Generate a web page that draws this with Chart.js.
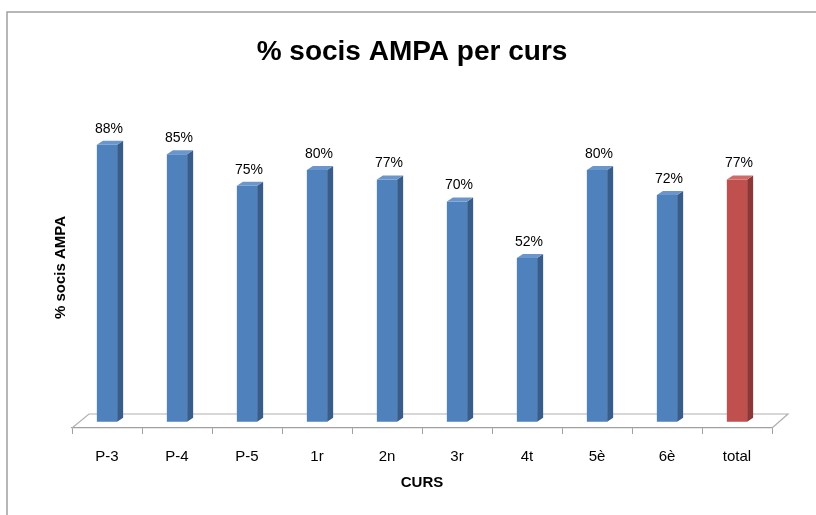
<!DOCTYPE html>
<html>
<head>
<meta charset="utf-8">
<script src="https://cdn.jsdelivr.net/npm/chart.js@4.4.0/dist/chart.umd.min.js"></script>
<style>
  html, body { margin: 0; padding: 0; background: #fff; }
  #wrap { width: 816px; height: 515px; }
</style>
</head>
<body>
<div id="wrap"><canvas id="sociChart" width="816" height="515"></canvas></div>
<script>
// Dades
const cursos = ['P-3', 'P-4', 'P-5', '1r', '2n', '3r', '4t', '5è', '6è', 'total'];
const percentatges = [88, 85, 75, 80, 77, 70, 52, 80, 72, 77];
const colorsFront = ['#4F81BD', '#4F81BD', '#4F81BD', '#4F81BD', '#4F81BD', '#4F81BD', '#4F81BD', '#4F81BD', '#4F81BD', '#C0504D'];
const colorsSide = ['#385D8A', '#385D8A', '#385D8A', '#385D8A', '#385D8A', '#385D8A', '#385D8A', '#385D8A', '#385D8A', '#8C3836'];
const colorsTop = ['#6A96CC', '#6A96CC', '#6A96CC', '#6A96CC', '#6A96CC', '#6A96CC', '#6A96CC', '#6A96CC', '#6A96CC', '#D06A67'];

const FONT = "'Liberation Sans', Arial, sans-serif";
const DEPTH_X = 6, DEPTH_Y = 4;

// marc del gràfic
const framePlugin = {
  id: 'frame',
  beforeDraw(chart) {
    const ctx = chart.ctx;
    ctx.save();
    ctx.fillStyle = '#fff';
    ctx.fillRect(0, 0, chart.width, chart.height);
    ctx.strokeStyle = '#A0A0A0';
    ctx.lineWidth = 1.5;
    ctx.beginPath();
    ctx.moveTo(7, chart.height);
    ctx.lineTo(7, 12);
    ctx.lineTo(chart.width, 12);
    ctx.stroke();
    ctx.restore();
  },
  // terra 3D
  beforeDatasetsDraw(chart) {
    const { ctx, chartArea } = chart;
    const b = chartArea.bottom;
    ctx.save();
    ctx.strokeStyle = '#B0B0B0';
    ctx.lineWidth = 1.2;
    ctx.beginPath();
    ctx.moveTo(chartArea.left, b);
    ctx.lineTo(chartArea.left + 17, b - 14);
    ctx.lineTo(chartArea.right + 16, b - 14);
    ctx.lineTo(chartArea.right, b);
    ctx.stroke();
    ctx.restore();
  }
};

// cares laterals i etiquetes
const bar3dPlugin = {
  id: 'bar3d',
  afterDatasetsDraw(chart) {
    const ctx = chart.ctx;
    const meta = chart.getDatasetMeta(0);
    ctx.save();
    meta.data.forEach((bar, i) => {
      const half = bar.width / 2;
      const l = bar.x - half, r = bar.x + half;
      const t = bar.y, bo = bar.base;
      ctx.fillStyle = colorsSide[i];
      ctx.beginPath();
      ctx.moveTo(r, t);
      ctx.lineTo(r + DEPTH_X, t - DEPTH_Y);
      ctx.lineTo(r + DEPTH_X, bo - DEPTH_Y);
      ctx.lineTo(r, bo);
      ctx.closePath();
      ctx.fill();
      ctx.fillStyle = colorsTop[i];
      ctx.beginPath();
      ctx.moveTo(l, t);
      ctx.lineTo(l + DEPTH_X, t - DEPTH_Y);
      ctx.lineTo(r + DEPTH_X, t - DEPTH_Y);
      ctx.lineTo(r, t);
      ctx.closePath();
      ctx.fill();

      ctx.fillStyle = '#000';
      ctx.font = '14px ' + FONT;
      ctx.textAlign = 'center';
      ctx.textBaseline = 'middle';
      ctx.fillText(percentatges[i] + '%', bar.x + 2, t - 16);
    });
    ctx.restore();
  }
};

const ctxBar = document.getElementById('sociChart').getContext('2d');
const sociChart = new Chart(ctxBar, {
  type: 'bar',
  data: {
    labels: cursos,
    datasets: [{
      label: '% socis AMPA',
      data: percentatges,
      backgroundColor: colorsFront,
      borderWidth: 0,
      barPercentage: 0.29,
      categoryPercentage: 1.0,
    }]
  },
  options: {
    responsive: false,
    animation: false,
    layout: { padding: { left: 8, right: 0, top: 0, bottom: 0 } },
    plugins: {
      legend: { display: false },
      tooltip: { enabled: false },
      title: {
        display: true,
        text: '% socis AMPA per curs',
        color: '#000',
        font: { family: FONT, size: 28, weight: 'bold', lineHeight: 1.2 },
        padding: { top: 35, bottom: 38.4 },
      },
    },
    scales: {
      x: {
        grid: { drawOnChartArea: false, drawTicks: true, tickLength: 6, color: '#A0A0A0', offset: true },
        border: { display: true, color: '#A0A0A0', width: 1.2 },
        ticks: { color: '#000', font: { family: FONT, size: 15 }, padding: 14 },
        title: {
          display: true, text: 'CURS', color: '#000',
          font: { family: FONT, size: 15, weight: 'bold', lineHeight: 1.2 },
          padding: { top: 0, bottom: 23 },
        },
        afterFit(scale) { scale.height = 87; },
      },
      y: {
        min: -2,
        max: 100,
        grid: { display: false },
        border: { display: false },
        ticks: { display: false },
        title: {
          display: true, text: '% socis AMPA', color: '#000',
          font: { family: FONT, size: 15, weight: 'bold', lineHeight: 1.2 },
          padding: { top: 44, bottom: 0 },
        },
        afterFit(scale) { scale.width = 64; },
      },
      y2: {
        position: 'right',
        display: true,
        grid: { display: false },
        border: { display: false },
        ticks: { display: false },
        afterFit(scale) { scale.width = 44; },
      },
    },
  },
  plugins: [framePlugin, bar3dPlugin],
});
</script>
</body>
</html>
